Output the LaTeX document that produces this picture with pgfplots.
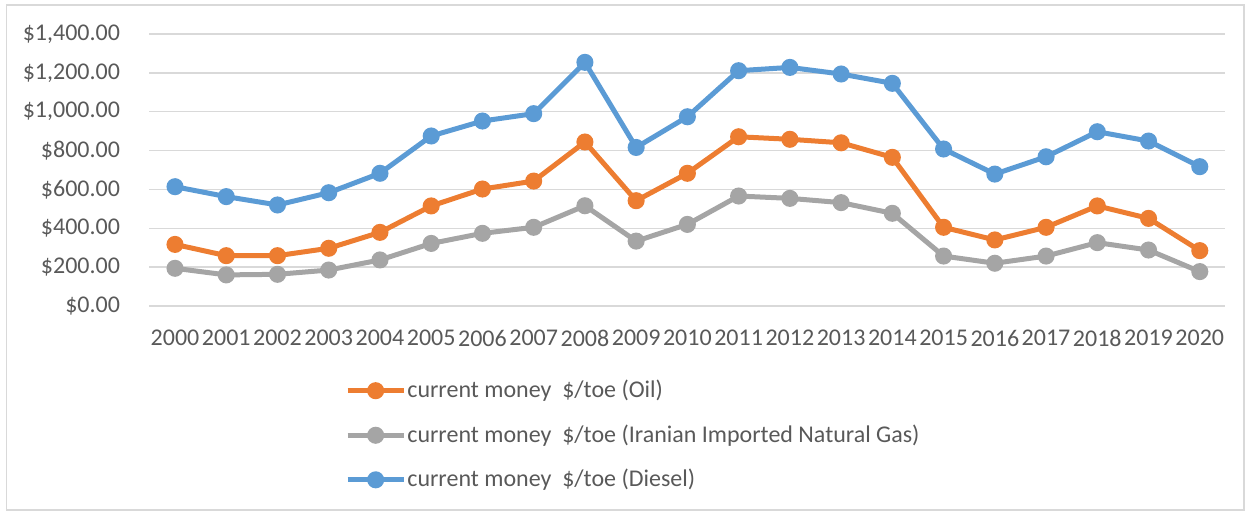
\documentclass[border=0pt]{standalone}
\usepackage{fontspec}
\setmainfont{Carlito}
\usepackage{pgfplots}
\pgfplotsset{compat=1.18}
\definecolor{oilc}{HTML}{ED7D31}
\definecolor{gasc}{HTML}{A5A5A5}
\definecolor{dieselc}{HTML}{5B9BD5}
\definecolor{textc}{HTML}{595959}
\definecolor{gridc}{HTML}{D9D9D9}
\begin{document}
\fontsize{12}{14.4}\selectfont
\begin{tikzpicture}
\useasboundingbox (-74.7pt,-103pt) rectangle (550.3pt,153pt);
\draw[gridc, line width=0.6pt] (-71.4pt,-102pt) rectangle (547.3pt,150.5pt);
\begin{axis}[
  at={(0pt,0pt)}, anchor=south west,
  scale only axis, width=538pt, height=136pt,
  xmin=-0.5, xmax=20.5, ymin=0, ymax=1400,
  axis line style={draw=none},
  tick style={draw=none},
  ymajorgrids, grid style={color=gridc, line width=0.75pt},
  xtick={0,1,...,20},
  xticklabels={2000,2001,2002,2003,2004,2005,2006,2007,2008,2009,2010,2011,2012,2013,2014,2015,2016,2017,2018,2019,2020},
  ytick={0,200,400,600,800,1000,1200,1400},
  yticklabels={\$0.00,\$200.00,\$400.00,\$600.00,\$800.00,\$1{,}000.00,\$1{,}200.00,\$1{,}400.00},
  ticklabel style={font=\fontsize{12}{14.4}\selectfont, text=textc},
  yticklabel style={xshift=-10.5pt},
  xticklabel style={yshift=-8pt},
  legend style={at={(0.176,-0.252)}, anchor=north west, draw=none, fill=none,
    row sep=10.5pt, font=\fontsize{12}{14.4}\selectfont, text=textc, nodes={inner sep=0.6pt}},
  legend cell align=left,
  legend image code/.code={\draw[mark repeat=2,mark phase=2] plot coordinates {(0pt,0pt) (14pt,0pt) (28pt,0pt)};},
  every axis plot/.append style={line width=2.5pt, mark=*, mark size=3pt},
]
\addplot[color=oilc, mark options={fill=oilc}] coordinates {
(0,317) (1,259) (2,259) (3,297) (4,379) (5,515) (6,602) (7,643) (8,844) (9,542) (10,683)
(11,871) (12,858) (13,840) (14,765) (15,405) (16,340) (17,405) (18,515) (19,451) (20,285)};
\addlegendentry{current money\ \ \$/toe (Oil)}
\addplot[color=gasc, mark options={fill=gasc}] coordinates {
(0,194) (1,160) (2,163) (3,185) (4,237) (5,322) (6,374) (7,405) (8,516) (9,334) (10,420)
(11,566) (12,554) (13,532) (14,477) (15,257) (16,220) (17,257) (18,326) (19,288) (20,177)};
\addlegendentry{current money\ \ \$/toe (Iranian Imported Natural Gas)}
\addplot[color=dieselc, mark options={fill=dieselc}] coordinates {
(0,614) (1,563) (2,520) (3,583) (4,683) (5,875) (6,952) (7,990) (8,1254) (9,816) (10,974)
(11,1211) (12,1228) (13,1194) (14,1146) (15,808) (16,679) (17,768) (18,897) (19,849) (20,717)};
\addlegendentry{current money\ \ \$/toe (Diesel)}
\end{axis}
\end{tikzpicture}
\end{document}
